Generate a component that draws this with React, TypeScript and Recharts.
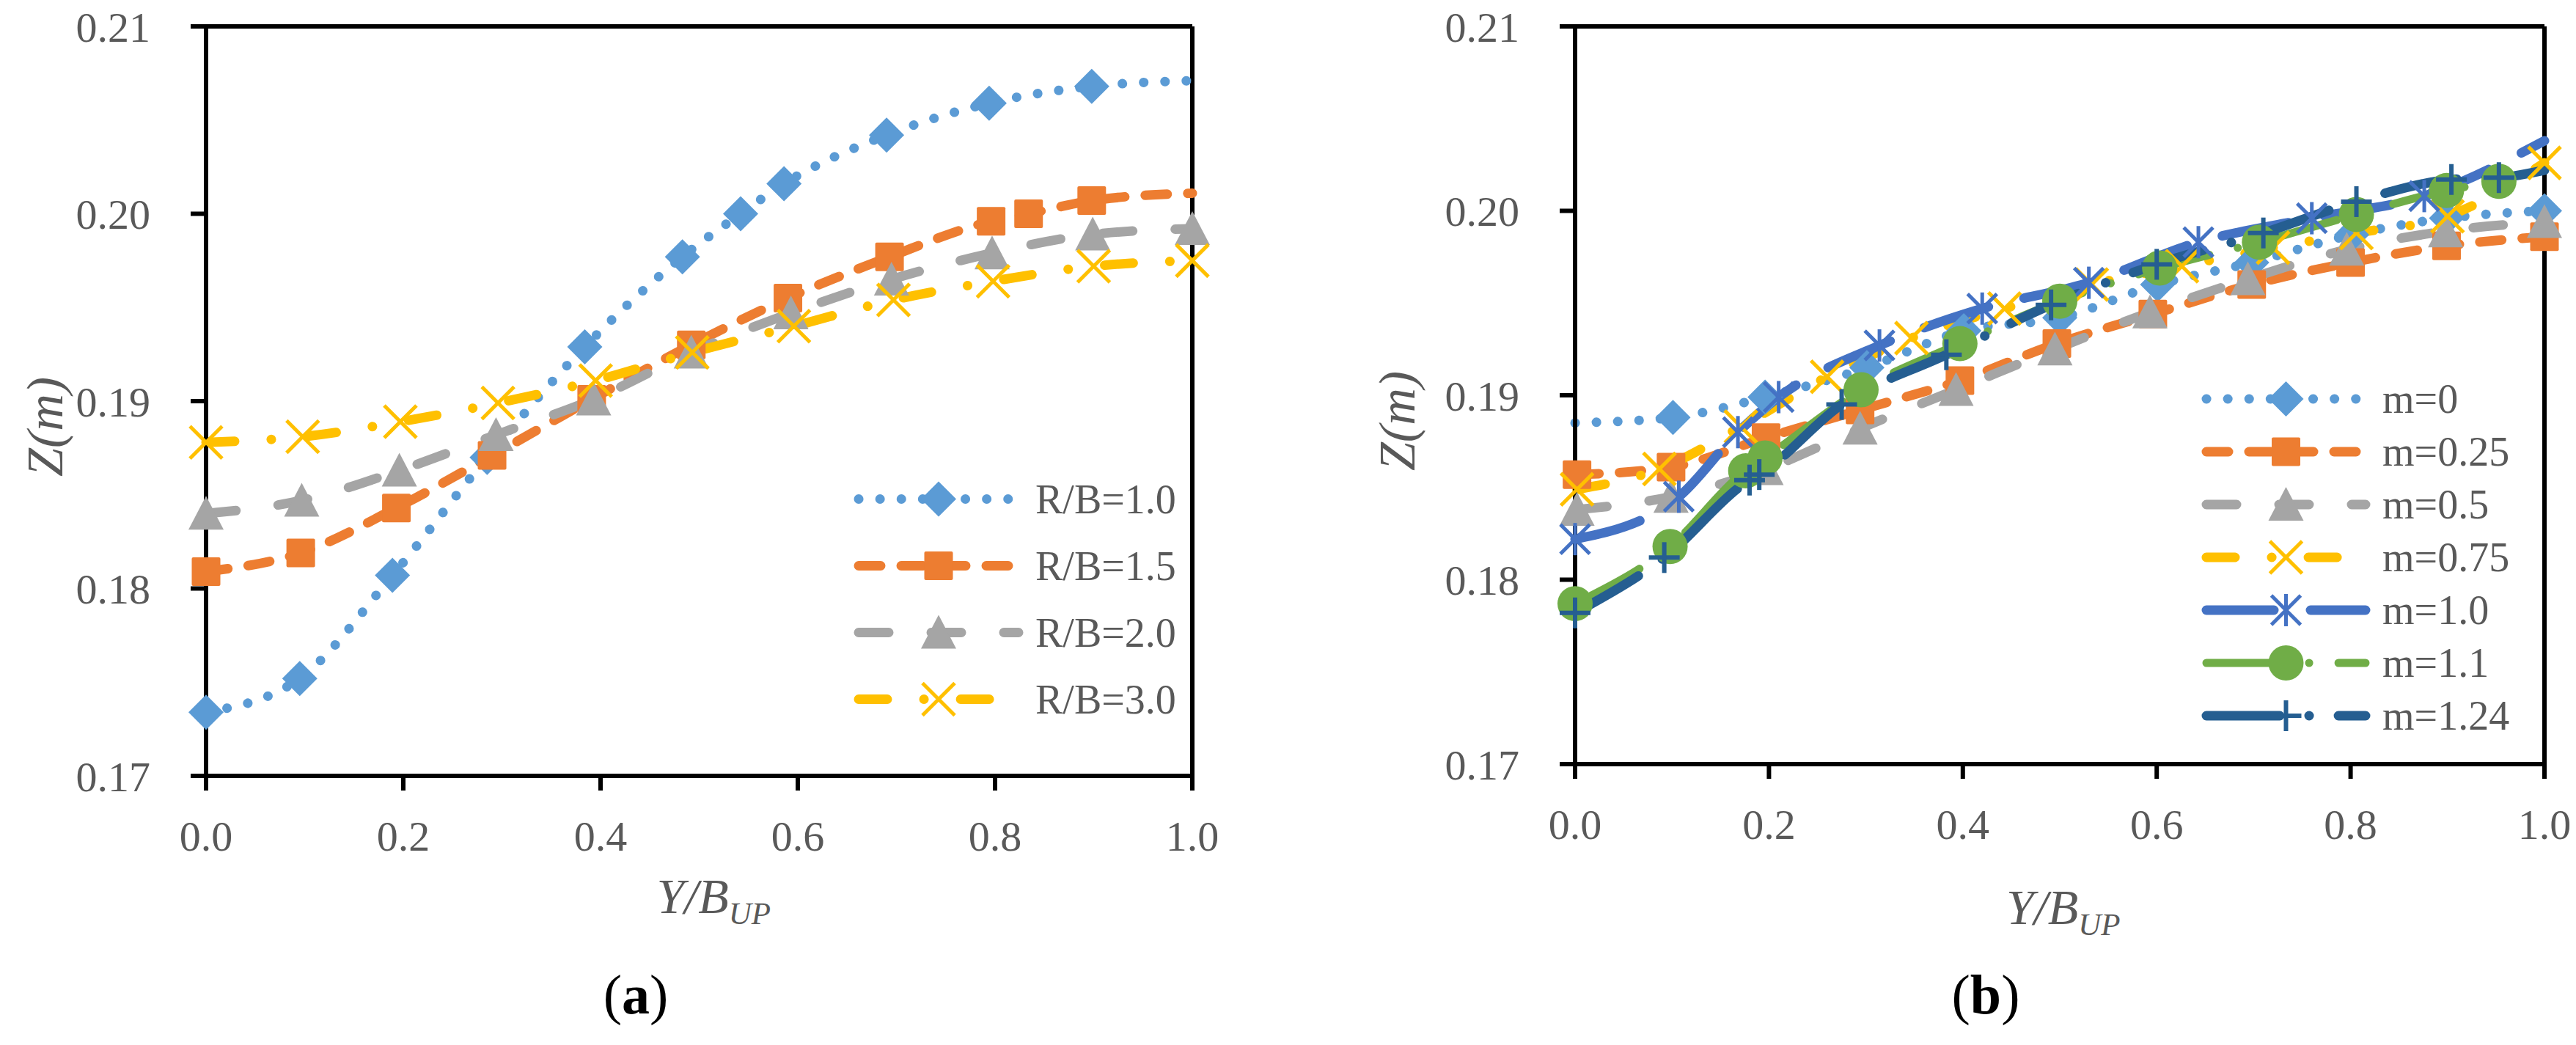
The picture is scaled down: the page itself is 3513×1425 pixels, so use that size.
import { LineChart, Line, XAxis, YAxis, ReferenceLine, Legend, Label } from 'recharts';

const FONT = '"Liberation Serif", "Times New Roman", serif';
const INK = '#595959';

const xTicks = [0, 0.2, 0.4, 0.6, 0.8, 1.0];
const zTicks = [0.17, 0.18, 0.19, 0.2, 0.21];

// (a) R/B series
const rb10X = [0, 0.095, 0.189, 0.285, 0.384, 0.483, 0.542, 0.586, 0.69, 0.794, 0.898, 1.0];
const rb10Z = [0.1734, 0.1752, 0.1807, 0.187, 0.1929, 0.1977, 0.2, 0.2016, 0.2042, 0.2059, 0.2068, 0.2071];
const rb15X = [0, 0.096, 0.193, 0.29, 0.391, 0.492, 0.59, 0.693, 0.796, 0.834, 0.898, 1.0];
const rb15Z = [0.1809, 0.1819, 0.1843, 0.1871, 0.1901, 0.193, 0.1955, 0.1977, 0.1996, 0.2, 0.2007, 0.2011];
const rb20X = [0, 0.097, 0.196, 0.294, 0.393, 0.492, 0.593, 0.695, 0.797, 0.899, 1.0];
const rb20Z = [0.184, 0.1847, 0.1863, 0.1882, 0.1901, 0.1926, 0.1947, 0.1965, 0.1979, 0.1989, 0.1992];
const rb30X = [0, 0.098, 0.197, 0.296, 0.395, 0.493, 0.596, 0.697, 0.798, 0.9, 1.0];
const rb30Z = [0.1878, 0.1881, 0.1889, 0.1899, 0.1911, 0.1926, 0.194, 0.1954, 0.1964, 0.1972, 0.1975];

// (b) m series
const m0X = [0, 0.101, 0.196, 0.301, 0.401, 0.5, 0.601, 0.698, 0.801, 0.899, 1.0];
const m0Z = [0.1885, 0.1888, 0.1899, 0.1915, 0.1935, 0.1942, 0.196, 0.1972, 0.1987, 0.1996, 0.2];
const m025X = [0.002, 0.099, 0.197, 0.294, 0.397, 0.497, 0.596, 0.698, 0.8, 0.899, 1.0];
const m025Z = [0.1857, 0.1861, 0.1877, 0.1892, 0.1908, 0.1928, 0.1944, 0.196, 0.1972, 0.1981, 0.1986];
const m05X = [0.002, 0.099, 0.197, 0.294, 0.393, 0.495, 0.593, 0.694, 0.796, 0.898, 1.0];
const m05Z = [0.1838, 0.1845, 0.186, 0.1882, 0.1903, 0.1925, 0.1945, 0.1963, 0.1979, 0.1989, 0.1994];
const m075X = [0.002, 0.087, 0.171, 0.26, 0.347, 0.443, 0.533, 0.626, 0.72, 0.806, 0.9, 1.0];
const m075Z = [0.1849, 0.186, 0.1883, 0.191, 0.1931, 0.1947, 0.196, 0.197, 0.198, 0.1988, 0.1997, 0.2026];
const m10X = [0, 0.107, 0.168, 0.21, 0.314, 0.42, 0.53, 0.643, 0.76, 0.876, 1.0];
const m10Z = [0.1822, 0.1845, 0.188, 0.1899, 0.1927, 0.1947, 0.1961, 0.1983, 0.1996, 0.2008, 0.2038];
const m11X = [0, 0.098, 0.176, 0.196, 0.295, 0.397, 0.5, 0.603, 0.706, 0.806, 0.899, 0.953];
const m11Z = [0.1787, 0.1818, 0.1859, 0.1866, 0.1903, 0.1928, 0.1951, 0.1969, 0.1983, 0.1998, 0.2011, 0.2016];
const m124X = [0, 0.092, 0.18, 0.19, 0.275, 0.383, 0.491, 0.6, 0.71, 0.806, 0.904, 0.953, 1.0];
const m124Z = [0.1782, 0.1812, 0.1854, 0.1857, 0.1895, 0.1922, 0.1949, 0.1971, 0.1988, 0.2005, 0.2017, 0.2018, 0.2022];

type Shape = 'diamond' | 'square' | 'triangle' | 'x' | 'star' | 'circle' | 'plus';

type SeriesDef = {
  name: string;
  color: string;
  dash: string;
  width: number;
  shape: Shape;
  xs: number[];
  zs: number[];
  bare?: number[]; // point indexes drawn without a marker
};

const pts = (xs: number[], zs: number[]) => xs.map((x, i) => ({ x, z: zs[i] }));

const DOT = '0.1 29';
const DASH = '30 28';
const LONG = '41 58';
const LONG_DOT = '39 50 0.1 50';

const seriesA: SeriesDef[] = [
  { name: 'R/B=1.0', color: '#5B9BD5', dash: DOT, width: 13, shape: 'diamond', xs: rb10X, zs: rb10Z, bare: [11] },
  { name: 'R/B=1.5', color: '#ED7D31', dash: DASH, width: 13, shape: 'square', xs: rb15X, zs: rb15Z, bare: [11] },
  { name: 'R/B=2.0', color: '#A5A5A5', dash: LONG, width: 13, shape: 'triangle', xs: rb20X, zs: rb20Z },
  { name: 'R/B=3.0', color: '#FFC000', dash: LONG_DOT, width: 13, shape: 'x', xs: rb30X, zs: rb30Z },
];

const seriesB: SeriesDef[] = [
  { name: 'm=0', color: '#5B9BD5', dash: DOT, width: 13, shape: 'diamond', xs: m0X, zs: m0Z, bare: [0] },
  { name: 'm=0.25', color: '#ED7D31', dash: DASH, width: 13, shape: 'square', xs: m025X, zs: m025Z },
  { name: 'm=0.5', color: '#A5A5A5', dash: LONG, width: 13, shape: 'triangle', xs: m05X, zs: m05Z },
  { name: 'm=0.75', color: '#FFC000', dash: LONG_DOT, width: 13, shape: 'x', xs: m075X, zs: m075Z },
  { name: 'm=1.0', color: '#4472C4', dash: '92 50', width: 13, shape: 'star', xs: m10X, zs: m10Z, bare: [10] },
  { name: 'm=1.1', color: '#70AD47', dash: '100 40 0.1 40', width: 11, shape: 'circle', xs: m11X, zs: m11Z },
  { name: 'm=1.24', color: '#255E91', dash: '100 40 0.1 40', width: 13, shape: 'plus', xs: m124X, zs: m124Z, bare: [12] },
];

function Marker({ shape, cx, cy, color }: { shape: Shape; cx: number; cy: number; color: string }) {
  switch (shape) {
    case 'diamond':
      return <polygon points={`${cx},${cy - 24} ${cx + 24},${cy} ${cx},${cy + 24} ${cx - 24},${cy}`} fill={color} />;
    case 'square':
      return <rect x={cx - 19.5} y={cy - 19.5} width={39} height={39} rx={2} fill={color} />;
    case 'triangle':
      return <polygon points={`${cx},${cy - 24} ${cx + 24},${cy + 22} ${cx - 24},${cy + 22}`} fill={color} />;
    case 'circle':
      return <circle cx={cx} cy={cy} r={24} fill={color} />;
    case 'x':
      return (
        <g stroke={color} strokeWidth={5}>
          <line x1={cx - 22} y1={cy - 22} x2={cx + 22} y2={cy + 22} />
          <line x1={cx - 22} y1={cy + 22} x2={cx + 22} y2={cy - 22} />
        </g>
      );
    case 'star':
      return (
        <g stroke={color} strokeWidth={5}>
          <line x1={cx - 20} y1={cy - 20} x2={cx + 20} y2={cy + 20} />
          <line x1={cx - 20} y1={cy + 20} x2={cx + 20} y2={cy - 20} />
          <line x1={cx} y1={cy - 22} x2={cx} y2={cy + 22} />
        </g>
      );
    case 'plus':
      return (
        <g stroke={color} strokeWidth={6}>
          <line x1={cx - 21} y1={cy} x2={cx + 21} y2={cy} />
          <line x1={cx} y1={cy - 21} x2={cx} y2={cy + 21} />
        </g>
      );
  }
  return null;
}

const dotFor = (s: SeriesDef) => (p: any) => {
  const { cx, cy, index } = p;
  if (cx == null || cy == null || (s.bare && s.bare.includes(index))) return <g key={`d${index}`} />;
  return (
    <g key={`d${index}`}>
      <Marker shape={s.shape} cx={cx} cy={cy} color={s.color} />
    </g>
  );
};

function LegendBox({ series, rowH, lineW, textX }: { series: SeriesDef[]; rowH: number; lineW: number; textX: number }) {
  return (
    <svg width={textX + 280} height={rowH * series.length} style={{ display: 'block', overflow: 'visible' }}>
      {series.map((s, i) => {
        const cy = rowH / 2 + i * rowH;
        return (
          <g key={s.name}>
            <line
              x1={8}
              x2={8 + lineW}
              y1={cy}
              y2={cy}
              stroke={s.color}
              strokeWidth={s.width}
              strokeDasharray={s.dash}
              strokeLinecap="round"
            />
            <Marker shape={s.shape} cx={8 + lineW / 2} cy={cy} color={s.color} />
            <text x={textX} y={cy} dy="0.34em" fontFamily={FONT} fontSize={56} fill={INK}>
              {s.name}
            </text>
          </g>
        );
      })}
    </svg>
  );
}

const xTitle = (dx: number, dy: number) => (props: any) => {
  const vb = props.viewBox || {};
  const x = vb.x + vb.width / 2 + dx;
  const y = vb.y + dy;
  return (
    <text x={x} y={y} fontFamily={FONT} fontSize={68} fill={INK} fontStyle="italic">
      Y/B
      <tspan fontSize={43} dy={15}>
        UP
      </tspan>
    </text>
  );
};

const zTitle = (dx: number) => (props: any) => {
  const vb = props.viewBox || {};
  const x = vb.x + vb.width + dx;
  const y = vb.y + vb.height / 2 + 35;
  return (
    <text
      x={x}
      y={y}
      transform={`rotate(-90 ${x} ${y})`}
      textAnchor="middle"
      dominantBaseline="central"
      fontFamily={FONT}
      fontSize={70}
      fill={INK}
      fontStyle="italic"
    >
      Z(m)
    </text>
  );
};

type PanelProps = {
  width: number;
  height: number;
  margin: { top: number; right: number; bottom: number; left: number };
  series: SeriesDef[];
  legendLeft: number;
  legendTop: number;
  rowH: number;
  lineW: number;
  textX: number;
  titleDx: number;
  titleDy: number;
  zDx: number;
};

function Panel(p: PanelProps) {
  const tick = { fill: INK, fontSize: 58, fontFamily: FONT };
  const axisLine = { stroke: '#000', strokeWidth: 6 };
  return (
    <LineChart width={p.width} height={p.height} margin={p.margin}>
      <XAxis
        type="number"
        dataKey="x"
        domain={[0, 1]}
        ticks={xTicks}
        interval={0}
        tickFormatter={(v: number) => v.toFixed(1)}
        tick={tick}
        tickSize={20}
        tickMargin={41}
        axisLine={axisLine}
        tickLine={axisLine}
        height={150}
      >
        <Label content={xTitle(p.titleDx, p.titleDy)} />
      </XAxis>
      <YAxis
        type="number"
        domain={[0.17, 0.21]}
        ticks={zTicks}
        interval={0}
        tickFormatter={(v: number) => v.toFixed(2)}
        tick={tick}
        tickSize={21}
        tickMargin={55}
        axisLine={axisLine}
        tickLine={axisLine}
        width={200}
      >
        <Label content={zTitle(p.zDx)} />
      </YAxis>
      <ReferenceLine y={0.21} stroke="#000" strokeWidth={6} />
      <ReferenceLine x={1} stroke="#000" strokeWidth={6} />
      {p.series.map((s) => (
        <Line
          key={s.name}
          name={s.name}
          data={pts(s.xs, s.zs)}
          dataKey="z"
          type="monotone"
          stroke={s.color}
          strokeWidth={s.width}
          strokeDasharray={s.dash}
          strokeLinecap="round"
          dot={dotFor(s)}
          activeDot={false}
          isAnimationActive={false}
        />
      ))}
      <Legend
        layout="vertical"
        align="center"
        verticalAlign="middle"
        wrapperStyle={{ left: p.legendLeft, top: p.legendTop, width: 'auto' }}
        content={() => <LegendBox series={p.series} rowH={p.rowH} lineW={p.lineW} textX={p.textX} />}
      />
    </LineChart>
  );
}

export default function App() {
  return (
    <div style={{ position: 'absolute', left: 0, top: 0, width: 3513, height: 1425, background: '#fff' }}>
      <div style={{ position: 'absolute', left: 0, top: 0 }}>
        <Panel
          width={1720}
          height={1425}
          margin={{ top: 36, right: 94, bottom: 217, left: 81 }}
          series={seriesA}
          legendLeft={1163}
          legendTop={634.5}
          rowH={91}
          lineW={218}
          textX={249}
          titleDx={-58}
          titleDy={187}
          zDx={-220}
        />
      </div>
      <div style={{ position: 'absolute', left: 1760, top: 0 }}>
        <Panel
          width={1753}
          height={1425}
          margin={{ top: 36, right: 43, bottom: 233, left: 188 }}
          series={seriesB}
          legendLeft={1241}
          legendTop={508}
          rowH={72}
          lineW={217}
          textX={248}
          titleDx={-73}
          titleDy={218}
          zDx={-243}
        />
      </div>
      <svg
        width={3513}
        height={1425}
        style={{ position: 'absolute', left: 0, top: 0, pointerEvents: 'none' }}
      >
        <text x={867} y={1382} textAnchor="middle" fontFamily={FONT} fontSize={76} fill="#000">
          (<tspan fontWeight="bold">a</tspan>)
        </text>
        <text x={2708} y={1382} textAnchor="middle" fontFamily={FONT} fontSize={76} fill="#000">
          (<tspan fontWeight="bold">b</tspan>)
        </text>
      </svg>
    </div>
  );
}
